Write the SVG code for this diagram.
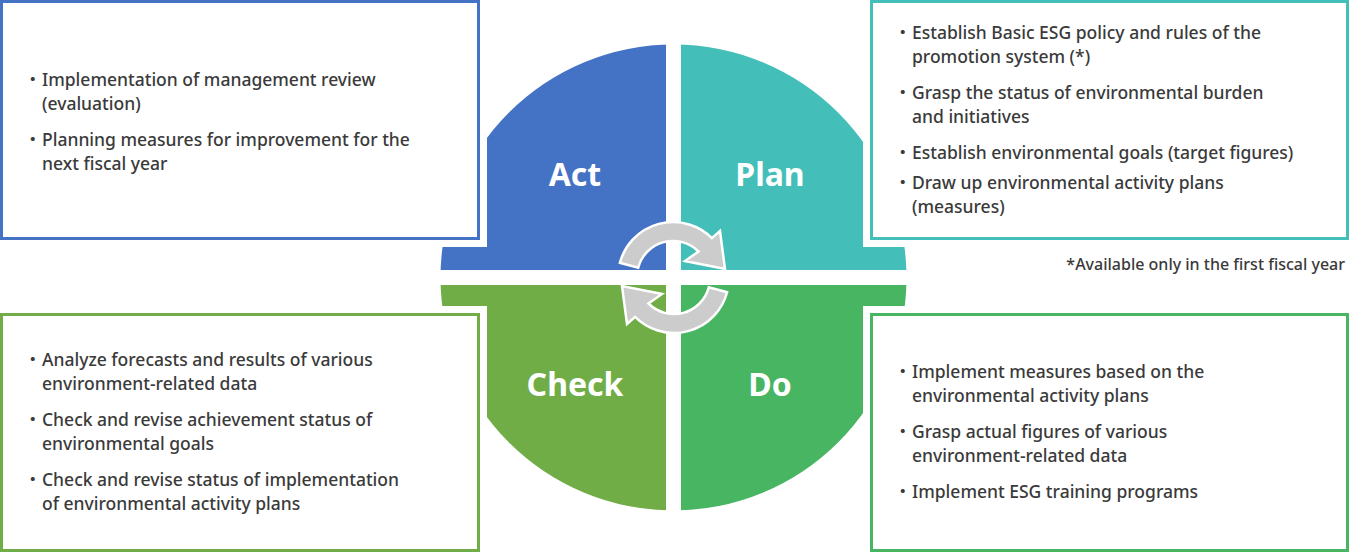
<svg xmlns="http://www.w3.org/2000/svg" width="1350" height="552" viewBox="0 0 1350 552">
<style>
.t{font-family:"Noto Sans","Noto Sans CJK JP",sans-serif;font-size:17.5px;font-weight:500;fill:#3a3a3a}
.lbl{font-family:"Noto Sans","Noto Sans CJK JP",sans-serif;font-size:32px;font-weight:700;fill:#fff;text-anchor:middle}
.box{fill:#fff;stroke-width:3}
.halo{fill:#fff}
.arr{fill:#cccccc;stroke:#fff;stroke-width:2.5;stroke-linejoin:miter}
</style>
<defs>
<clipPath id="c"><circle cx="673.5" cy="277.5" r="233"/></clipPath>
</defs>
<g id="cycle" clip-path="url(#c)">
<rect x="430" y="40" width="236" height="230" fill="#4472C4"/>
<rect x="681" y="40" width="236" height="230" fill="#43BEB8"/>
<rect x="430" y="285" width="236" height="230" fill="#70AD47"/>
<rect x="681" y="285" width="236" height="230" fill="#47B562"/>
</g>
<g id="labels">
<text class="lbl" x="575" y="186">Act</text>
<text class="lbl" x="770" y="186">Plan</text>
<text class="lbl" x="575" y="396">Check</text>
<text class="lbl" x="770" y="396">Do</text>
</g>
<g id="connectors">
<path id="arrowTop" class="arr" d="M619.9,262.8 A55,55 0 0 1 711.9,238.1 L720,231 L725,269 L685,261 L698.5,251.5 A36,36 0 0 0 638.2,267.7 Z"/>
<path class="arr" transform="rotate(180 673.5 277.5)" d="M619.9,262.8 A55,55 0 0 1 711.9,238.1 L720,231 L725,269 L685,261 L698.5,251.5 A36,36 0 0 0 638.2,267.7 Z"/>
</g>
<g id="act">
<rect class="halo" x="0" y="0" width="487" height="247"/>
<rect class="box" x="1.5" y="1.5" width="477" height="237" stroke="#4472C4"/>
<text class="t" x="24" y="86">・</text><text class="t" x="42" y="86">Implementation of management review</text>
<text class="t" x="42" y="110">(evaluation)</text>
<text class="t" x="24" y="146">・</text><text class="t" x="42" y="146">Planning measures for improvement for the</text>
<text class="t" x="42" y="170">next fiscal year</text>
</g>
<g id="plan">
<rect class="halo" x="863" y="0" width="487" height="247"/>
<rect class="box" x="871.5" y="1.5" width="476" height="237" stroke="#43BEB8"/>
<text class="t" x="894" y="39">・</text><text class="t" x="912" y="39">Establish Basic ESG policy and rules of the</text>
<text class="t" x="912" y="63">promotion system (*)</text>
<text class="t" x="894" y="99">・</text><text class="t" x="912" y="99">Grasp the status of environmental burden</text>
<text class="t" x="912" y="123">and initiatives</text>
<text class="t" x="894" y="159">・</text><text class="t" x="912" y="159">Establish environmental goals (target figures)</text>
<text class="t" x="894" y="189">・</text><text class="t" x="912" y="189">Draw up environmental activity plans</text>
<text class="t" x="912" y="213">(measures)</text>
</g>
<text id="note" class="t" x="1345" y="270" text-anchor="end" style="font-size:16px">*Available only in the first fiscal year</text>
<g id="check">
<rect class="halo" x="0" y="306" width="487" height="246"/>
<rect class="box" x="1.5" y="314.5" width="477" height="236" stroke="#70AD47"/>
<text class="t" x="24" y="366">・</text><text class="t" x="42" y="366">Analyze forecasts and results of various</text>
<text class="t" x="42" y="390">environment-related data</text>
<text class="t" x="24" y="426">・</text><text class="t" x="42" y="426">Check and revise achievement status of</text>
<text class="t" x="42" y="450">environmental goals</text>
<text class="t" x="24" y="486">・</text><text class="t" x="42" y="486">Check and revise status of implementation</text>
<text class="t" x="42" y="510">of environmental activity plans</text>
</g>
<g id="do">
<rect class="halo" x="863" y="306" width="487" height="246"/>
<rect class="box" x="871.5" y="314.5" width="476" height="236" stroke="#47B562"/>
<text class="t" x="894" y="378">・</text><text class="t" x="912" y="378">Implement measures based on the</text>
<text class="t" x="912" y="402">environmental activity plans</text>
<text class="t" x="894" y="438">・</text><text class="t" x="912" y="438">Grasp actual figures of various</text>
<text class="t" x="912" y="462">environment-related data</text>
<text class="t" x="894" y="498">・</text><text class="t" x="912" y="498">Implement ESG training programs</text>
</g>
</svg>
